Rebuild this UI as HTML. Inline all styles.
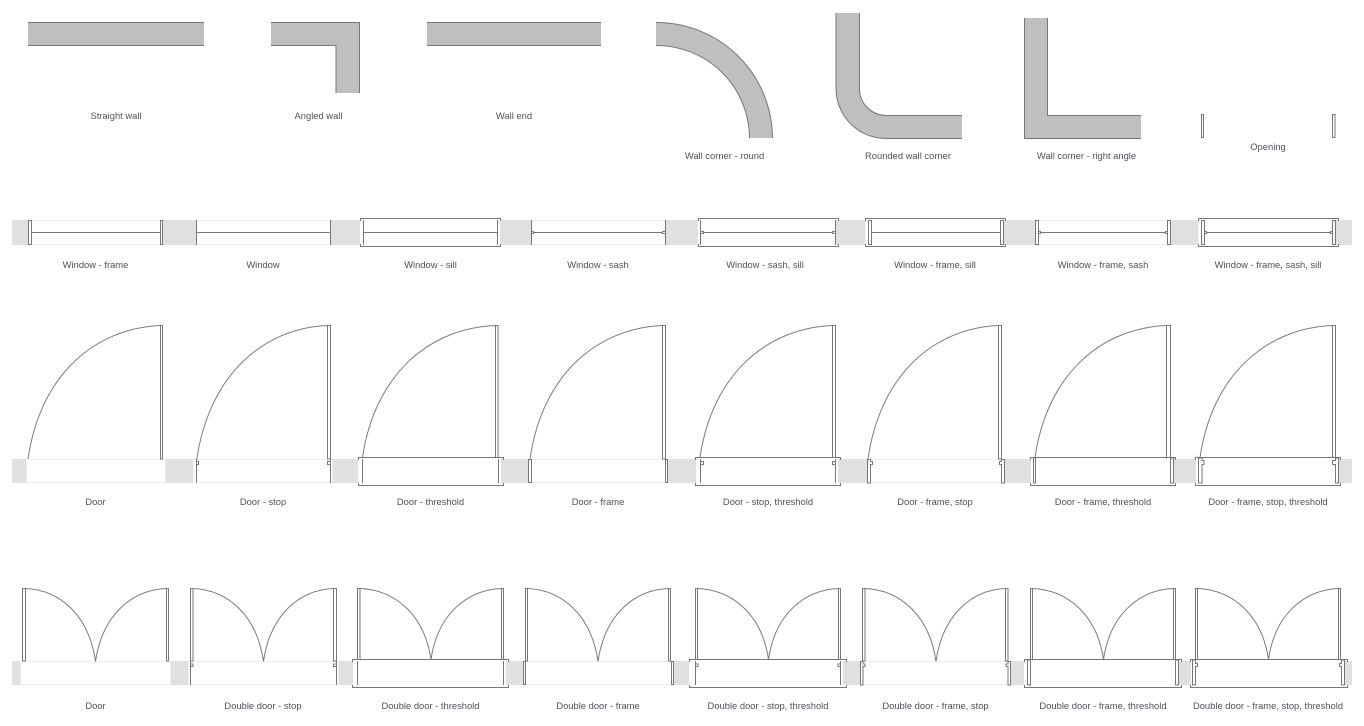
<!DOCTYPE html>
<html><head><meta charset="utf-8">
<style>
html,body{margin:0;padding:0;background:#fff}
svg{display:block}
text{font-family:"Liberation Sans",Arial,sans-serif;font-size:9.4px;fill:#50505a;text-anchor:middle}
.w{fill:#bfbfbf;stroke:none}
.l{fill:none;stroke:#777;stroke-width:1}
.r{fill:#fff;stroke:#777;stroke-width:1}
.a{fill:none;stroke:#7c7c7c;stroke-width:1}
.g{fill:#e0e0e0}
.h{fill:#fff;stroke:#eee;stroke-width:1}
</style></head>
<body>
<svg width="1364" height="726" viewBox="0 0 1364 726" xmlns="http://www.w3.org/2000/svg">
<!-- walls -->
<rect class="w" x="28" y="22" width="176" height="24"/><path class="l" d="M28 22.5H204M28 45.5H204"/>
<path class="w" d="M271 22H359.5V93H336V46H271Z"/><path class="l" d="M271 22.5H359.5V93M336 93V45.5H271"/>
<rect class="w" x="427" y="22" width="174" height="24"/><path class="l" d="M427 22.5H601M427 45.5H601"/>
<path class="w" d="M656 22.5A116 116 0 0 1 772.5 138H749.5A93 93 0 0 0 656 45.5Z"/><path class="l" d="M656 22.5A116 116 0 0 1 772.5 138M749.5 138A93 93 0 0 0 656 45.5"/>
<path class="w" d="M836 13H859.5V88A27 27 0 0 0 886 115H962V138.5H886A50 50 0 0 1 836 88Z"/><path class="l" d="M836 13V88A50 50 0 0 0 886 138.5H962M859.5 13V88A27 27 0 0 0 886 115.5H962"/>
<path class="w" d="M1024 18H1047.5V115H1141V138.5H1024Z"/><path class="l" d="M1024.5 18V138.5H1141M1047.5 18V115.5H1141"/>
<rect class="r" x="1201.5" y="114.5" width="2" height="23"/><rect class="r" x="1332.5" y="114.5" width="2.5" height="23"/>
<text x="116" y="119">Straight wall</text><text x="318.5" y="119">Angled wall</text><text x="514" y="119">Wall end</text>
<text x="724.5" y="159">Wall corner - round</text><text x="908" y="159">Rounded wall corner</text><text x="1086.5" y="159">Wall corner - right angle</text><text x="1268" y="150">Opening</text>

<!-- windows -->
<rect class="g" x="12" y="220" width="1340" height="25"/>
<rect class="h" x="28.5" y="220.5" width="134" height="24"/>
<rect class="h" x="196.5" y="220.5" width="134" height="24"/>
<rect x="360" y="218" width="140" height="29" fill="#fff"/>
<rect class="h" x="531.5" y="220.5" width="134" height="24"/>
<rect x="698" y="218" width="138" height="29" fill="#fff"/>
<rect x="865.5" y="218" width="137" height="29" fill="#fff"/>
<rect class="h" x="1035.5" y="220.5" width="135" height="24"/>
<rect x="1198.5" y="218" width="137" height="29" fill="#fff"/>
<g class="l">
<path d="M32 232.5H160M197 232.5H330M363 232.5H498M532 232.5H665M700 232.5H836M872 232.5H1000M1039 232.5H1167M1205 232.5H1332"/>
<path d="M196.5 220V245M330.5 220V245M363.5 220V245M497.5 220V245M531.5 220V245M665.5 220V245M700.5 220V245M835.5 220V245"/>
<path d="M360.5 221V218.5H500.5V221M360.5 244V246.5H500.5V244"/>
<path d="M698.5 221V218.5H838.5V221M698.5 244V246.5H838.5V244"/>
<path d="M865.5 221V218.5H1005.5V221M865.5 244V246.5H1005.5V244"/>
<path d="M1198.5 221V218.5H1338.5V221M1198.5 244V246.5H1338.5V244"/>
</g>
<g class="r">
<rect x="28.5" y="220.5" width="3" height="24"/><rect x="160.5" y="220.5" width="2" height="24"/>
<rect x="868.5" y="220.5" width="3" height="24"/><rect x="1000.5" y="220.5" width="3" height="24"/>
<rect x="1035.5" y="220.5" width="3" height="24"/><rect x="1167.5" y="220.5" width="3" height="24"/>
<rect x="1201.5" y="220.5" width="3" height="24"/><rect x="1332.5" y="220.5" width="3" height="24"/>
<rect x="531.5" y="231.5" width="2" height="2"/><rect x="662.5" y="231.5" width="3" height="2"/>
<rect x="700.5" y="231.5" width="3" height="2"/><rect x="832.5" y="231.5" width="3" height="2"/>
<rect x="1038.5" y="231.5" width="2" height="2"/><rect x="1165.5" y="231.5" width="2" height="2"/>
<rect x="1204.5" y="231.5" width="2" height="2"/><rect x="1330.5" y="231.5" width="2" height="2"/>
</g>
<text x="95.5" y="268">Window - frame</text><text x="263" y="268">Window</text><text x="430.5" y="268">Window - sill</text><text x="598" y="268">Window - sash</text><text x="765" y="268">Window - sash, sill</text><text x="935" y="268">Window - frame, sill</text><text x="1103" y="268">Window - frame, sash</text><text x="1268" y="268">Window - frame, sash, sill</text>

<!-- doors -->
<rect class="g" x="12" y="459" width="1340" height="24"/>
<rect class="h" x="26.5" y="459.5" width="139" height="23"/>
<rect class="h" x="193.5" y="459.5" width="139" height="23"/>
<rect x="358" y="457" width="143" height="29" fill="#fff"/>
<rect class="h" x="528.5" y="459.5" width="139" height="23"/>
<rect x="696" y="457" width="142" height="29" fill="#fff"/>
<rect class="h" x="867.5" y="459.5" width="137" height="23"/>
<rect x="1031" y="457" width="142" height="29" fill="#fff"/>
<rect x="1196" y="457" width="142" height="29" fill="#fff"/>
<g class="a">
<path d="M160.5 325.5c-64.9 2.7-120.2 48.5-132.5 133.5"/>
<path d="M327.5 325.5c-64.2 2.7-118.8 49.2-131 135.5"/>
<path d="M495.5 325.5c-65.2 2.6-120.6 47.9-133 132"/>
<path d="M662.5 325.5c-64.9 2.7-120.2 48.5-132.5 133.5"/>
<path d="M832.5 325.5c-64.9 2.6-120.2 47.9-132.5 132"/>
<path d="M998.5 325.5c-63.9 2.7-118.4 48.5-130.5 133.5"/>
<path d="M1166.5 325.5c-64.4 2.6-119.3 47.9-131.5 132"/>
<path d="M1332.5 325.5c-64.9 2.6-120.2 47.9-132.5 132"/>
</g>
<g class="l">
<path d="M196.5 459V483M330.5 459V483M362.5 459V483M498.5 459V483M700.5 459V483M835.5 459V483"/>
<path d="M358.5 460V457.5H503.5V460M358.5 483V485.5H503.5V483"/>
<path d="M695.5 460V457.5H840.5V460M695.5 483V485.5H840.5V483"/>
<path d="M1030.5 460V457.5H1175.5V460M1030.5 483V485.5H1175.5V483"/>
<path d="M1195.5 460V457.5H1340.5V460M1195.5 483V485.5H1340.5V483"/>
</g>
<g class="r">
<rect x="160.5" y="325.5" width="2" height="133.5"/>
<rect x="327.5" y="325.5" width="3" height="133.5"/>
<rect x="495.5" y="325.5" width="2.5" height="132"/>
<rect x="662.5" y="325.5" width="3" height="133.5"/>
<rect x="832.5" y="325.5" width="3" height="132"/>
<rect x="998.5" y="325.5" width="3" height="133.5"/>
<rect x="1166.5" y="325.5" width="4" height="132"/>
<rect x="1332.5" y="325.5" width="3" height="132"/>
<rect x="196.5" y="461.5" width="2" height="3"/><rect x="327.5" y="461.5" width="3" height="3"/>
<rect x="700.5" y="461.5" width="3" height="3"/><rect x="832.5" y="461.5" width="3" height="3"/>
<rect x="528.5" y="459.5" width="3" height="23"/><rect x="665.5" y="459.5" width="2" height="23"/>
<rect x="1033.5" y="458" width="2" height="25"/><rect x="1170.5" y="458" width="3" height="25"/>
<path d="M867.5 483V459.5H870.5V461.5H872.5V464.5H870.5V483Z"/>
<path d="M1004.5 483V459.5H1001.5V461.5H999.5V464.5H1001.5V483Z"/>
<path d="M1198.5 483V458H1202V460.5H1204V464.5H1202V483Z"/>
<path d="M1338.5 483V458H1335.5V460.5H1332.5V464.5H1335.5V483Z"/>
</g>
<text x="95.5" y="505">Door</text><text x="263" y="505">Door - stop</text><text x="430.5" y="505">Door - threshold</text><text x="598" y="505">Door - frame</text><text x="768" y="505">Door - stop, threshold</text><text x="935" y="505">Door - frame, stop</text><text x="1103" y="505">Door - frame, threshold</text><text x="1268" y="505">Door - frame, stop, threshold</text>

<!-- double doors -->
<rect class="g" x="12" y="661" width="1340" height="24"/>
<rect class="h" x="20.5" y="661.5" width="150" height="23"/>
<rect class="h" x="188.5" y="661.5" width="150" height="23"/>
<rect x="353" y="659" width="153" height="29" fill="#fff"/>
<rect class="h" x="523.5" y="661.5" width="150" height="23"/>
<rect x="689" y="659" width="154" height="29" fill="#fff"/>
<rect class="h" x="860.5" y="661.5" width="150" height="23"/>
<rect x="1024" y="659" width="154" height="29" fill="#fff"/>
<rect x="1191" y="659" width="154" height="29" fill="#fff"/>
<g class="a">
<path d="M25.5 588.5c34.3 1.5 63.5 26.5 70 73M166.5 588.5c-34.8 1.5-64.4 26.5-71 73"/>
<path d="M193 588.5c34.5 1.5 63.9 26.5 70.5 73M333.5 588.5c-34.3 1.5-63.5 26.5-70 73"/>
<path d="M360 588.5c34.8 1.4 64.4 25.8 71 71M501.5 588.5c-34.5 1.4-63.9 25.8-70.5 71"/>
<path d="M527.5 588.5c34.5 1.5 63.9 26.5 70.5 73M668.5 588.5c-34.5 1.5-63.9 26.5-70.5 73"/>
<path d="M697.5 588.5c34.8 1.4 64.4 25.8 71 71M838.5 588.5c-34.3 1.4-63.5 25.8-70 71"/>
<path d="M865 588.5c34.8 1.5 64.4 26.5 71 73M1005.5 588.5c-34.1 1.5-63 26.5-69.5 73"/>
<path d="M1032.5 588.5c34.8 1.4 64.4 25.8 71 71M1173.5 588.5c-34.3 1.4-63.5 25.8-70 71"/>
<path d="M1197.5 588.5c34.8 1.4 64.4 25.8 71 71M1338.5 588.5c-34.3 1.4-63.5 25.8-70 71"/>
</g>
<g class="l">
<path d="M190.5 661V685M336.5 661V685M357.5 661V685M503.5 661V685M695.5 661V685M840.5 661V685"/>
<path d="M352.5 662V659.5H508.5V662M352.5 685V687.5H508.5V685"/>
<path d="M689.5 662V659.5H846.5V662M689.5 685V687.5H846.5V685"/>
<path d="M1024.5 662V659.5H1181.5V662M1024.5 685V687.5H1181.5V685"/>
<path d="M1190.5 662V659.5H1347.5V662M1190.5 685V687.5H1347.5V685"/>
</g>
<g class="r">
<rect x="22.5" y="588.5" width="3" height="72.5"/><rect x="166.5" y="588.5" width="2" height="72.5"/>
<rect x="190.5" y="588.5" width="2.5" height="72.5"/><rect x="333.5" y="588.5" width="3" height="72.5"/>
<rect x="357.5" y="588.5" width="2.5" height="71"/><rect x="501.5" y="588.5" width="2" height="71"/>
<rect x="525.5" y="588.5" width="2" height="72.5"/><rect x="668.5" y="588.5" width="2" height="72.5"/>
<rect x="695.5" y="588.5" width="2" height="71"/><rect x="838.5" y="588.5" width="2" height="71"/>
<rect x="862.5" y="588.5" width="2.5" height="72.5"/><rect x="1005.5" y="588.5" width="2.5" height="72.5"/>
<rect x="1030.5" y="588.5" width="2" height="71"/><rect x="1173.5" y="588.5" width="2" height="71"/>
<rect x="1195.5" y="588.5" width="2" height="71"/><rect x="1338.5" y="588.5" width="2" height="71"/>
<rect x="190.5" y="664" width="2.5" height="2.5"/><rect x="333.5" y="664" width="3" height="2.5"/>
<rect x="695.5" y="664" width="2.5" height="2.5"/><rect x="838" y="664" width="2.5" height="2.5"/>
<rect x="523.5" y="661.5" width="2" height="23"/><rect x="671.5" y="661.5" width="2" height="23"/>
<rect x="1027.5" y="660" width="3" height="25"/><rect x="1175.5" y="660" width="3" height="25"/>
<path d="M860.5 685V661.5H863V664H865V666.5H863V685Z"/>
<path d="M1010.5 685V661.5H1008V664H1006V666.5H1008V685Z"/>
<path d="M1192.5 685V660H1195.5V663.5H1197.5V666.5H1195.5V685Z"/>
<path d="M1344.5 685V660H1341.5V663.5H1339.5V666.5H1341.5V685Z"/>
</g>
<text x="95.5" y="709">Door</text><text x="263" y="709">Double door - stop</text><text x="430.5" y="709">Double door - threshold</text><text x="598" y="709">Double door - frame</text><text x="768" y="709">Double door - stop, threshold</text><text x="935.5" y="709">Double door - frame, stop</text><text x="1103" y="709">Double door - frame, threshold</text><text x="1268" y="709">Double door - frame, stop, threshold</text>
</svg>
</body></html>
